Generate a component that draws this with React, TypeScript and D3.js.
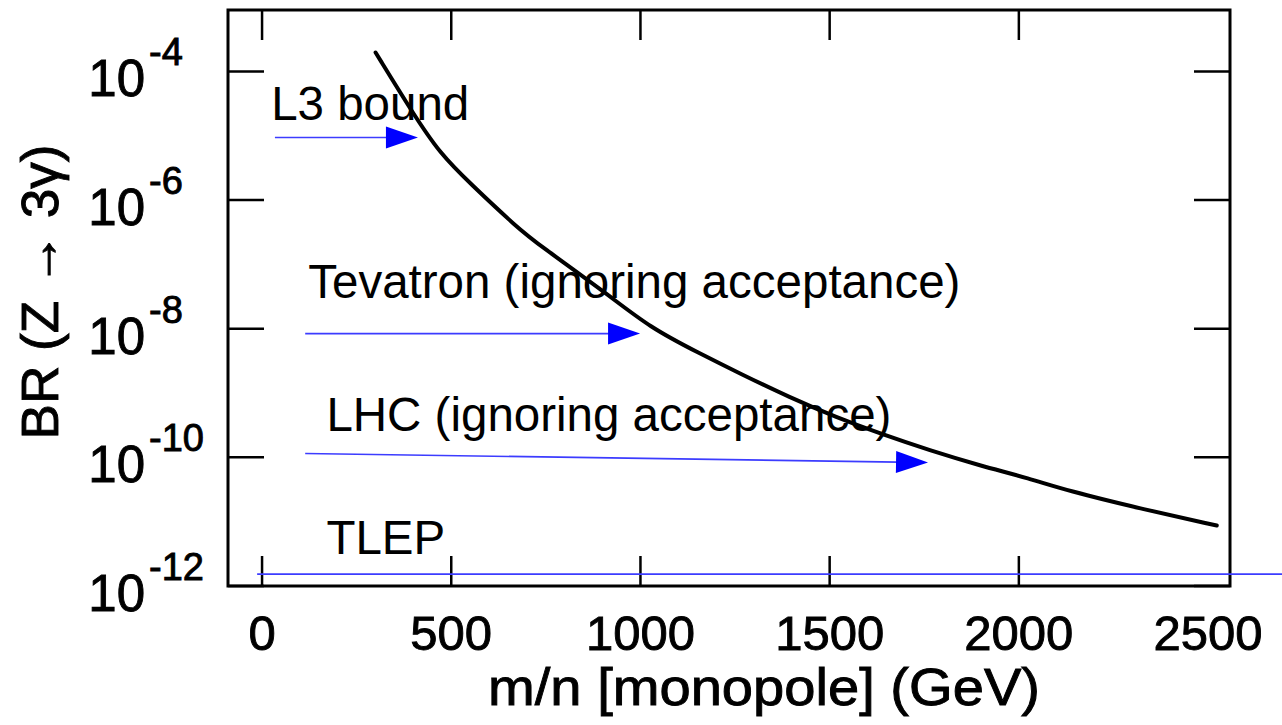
import React from "react";
import * as d3 from "d3";

// ---- data ----
const massGeV = [300, 399, 470, 550, 674, 734, 911, 1025, 1157, 1263, 1395, 1519, 1633, 1765, 1897, 2029, 2127, 2320, 2523];
const branchingRatio = [1.97e-4, 2.22e-5, 5.31e-6, 1.81e-6, 3.75e-7, 1.97e-7, 3.52e-8, 1.04e-8, 4.11e-9, 2.01e-9, 8.5e-10, 4.16e-10, 2.34e-10, 1.28e-10, 7.45e-11, 4.68e-11, 3.05e-11, 1.6e-11, 8.7e-12];

const xTicks = [0, 500, 1000, 1500, 2000, 2500];
const xTickMarks = [0, 500, 1000, 1500, 2000];
const yTickExponents = [-4, -6, -8, -10, -12];

const annotationLabels = ["L3 bound", "Tevatron (ignoring acceptance)", "LHC (ignoring acceptance)", "TLEP"];
const labelX = [24, 122, 170, 170];
const labelY = [1.73e-5, 2.95e-8, 2.61e-10, 3.19e-12];

const arrowX1 = [34, 114, 114, -13];
const arrowY1 = [9.4e-6, 8.4e-9, 1.15e-10, 1.53e-12];
const arrowX2 = [412, 999, 1760, 2700];
const arrowY2 = [9.4e-6, 8.4e-9, 8.3e-11, 1.53e-12];
const arrowHasHead = [true, true, true, false];

const xLabel = "m/n [monopole] (GeV)";
const yLabel = "BR (Z \u2192 3\u03b3)";

export default function App() {
  const W = 1282, H = 725;
  const left = 228, right = 1230, top = 10, bottom = 586;
  const x = d3.scaleLinear().domain([-90, 2558]).range([left, right]);
  const y = d3.scaleLog().domain([1e-12, Math.pow(10, -3.045)]).range([bottom, top]);

  const line = d3
    .line<number>()
    .x((_, i) => x(massGeV[i]))
    .y((_, i) => y(branchingRatio[i]))
    .curve(d3.curveBasis);

  const font = "'Liberation Sans', Arial, Helvetica, sans-serif";
  const scan = { fill: "#000", stroke: "#000", strokeWidth: 0.9 } as const;

  const arrows = annotationLabels.map((_, i) => {
    const x1 = x(arrowX1[i]), y1 = y(arrowY1[i]);
    const x2 = x(arrowX2[i]), y2 = y(arrowY2[i]);
    const dx = x2 - x1, dy = y2 - y1;
    const len = Math.hypot(dx, dy);
    const ux = dx / len, uy = dy / len;
    const headL = 32, headW = 11;
    const bx = x2 - ux * headL, by = y2 - uy * headL;
    const pts = [
      [x2, y2],
      [bx - uy * headW, by + ux * headW],
      [bx + uy * headW, by - ux * headW],
    ];
    return { x1, y1, x2: arrowHasHead[i] ? bx + ux * 2 : x2, y2: arrowHasHead[i] ? by + uy * 2 : y2, pts, head: arrowHasHead[i] };
  });

  return (
    <svg
      width={W}
      height={H}
      style={{ position: "fixed", left: 0, top: 0, background: "#fff" }}
      fontFamily={font}
    >
      <rect x={0} y={0} width={W} height={H} fill="#fff" />
      {/* frame */}
      <rect x={left} y={top} width={right - left} height={bottom - top} fill="none" stroke="#000" strokeWidth={3} />
      {/* x ticks bottom & top */}
      {xTickMarks.map((v) => (
        <g key={"xt" + v}>
          <line x1={x(v)} x2={x(v)} y1={bottom} y2={bottom - 30} stroke="#000" strokeWidth={2.5} />
          <line x1={x(v)} x2={x(v)} y1={top} y2={top + 30} stroke="#000" strokeWidth={2.5} />
        </g>
      ))}
      {/* y ticks left & right */}
      {yTickExponents.map((e) => (
        <g key={"yt" + e}>
          <line x1={left} x2={left + 36} y1={y(Math.pow(10, e))} y2={y(Math.pow(10, e))} stroke="#000" strokeWidth={2.5} />
          <line x1={right} x2={right - 36} y1={y(Math.pow(10, e))} y2={y(Math.pow(10, e))} stroke="#000" strokeWidth={2.5} />
        </g>
      ))}
      {/* x tick labels */}
      {xTicks.map((v) => (
        <text key={"xl" + v} x={x(v)} y={650} textAnchor="middle" fontSize={49} {...scan}>
          {v}
        </text>
      ))}
      {/* y tick labels */}
      {yTickExponents.map((e) => {
        const ty = y(Math.pow(10, e));
        return (
          <g key={"yl" + e}>
            <text x={145} y={ty + 25} textAnchor="end" fontSize={51} {...scan}>
              10
            </text>
            <text x={149} y={ty - 6} textAnchor="start" fontSize={38} {...scan}>
              {"-" + Math.abs(e)}
            </text>
          </g>
        );
      })}
      {/* axis titles */}
      <text x={764} y={705} textAnchor="middle" fontSize={52} textLength={552} lengthAdjust="spacingAndGlyphs" {...scan}>
        {xLabel}
      </text>
      <text
        transform="translate(58,292) rotate(-90)"
        textAnchor="middle"
        fontSize={52}
        textLength={295}
        lengthAdjust="spacingAndGlyphs"
        {...scan}
      >
        {yLabel}
      </text>
      {/* curve */}
      <path d={line(massGeV) || ""} fill="none" stroke="#000" strokeWidth={4} strokeLinecap="round" />
      {/* annotations */}
      {annotationLabels.map((t, i) => (
        <text key={"an" + i} x={x(labelX[i])} y={y(labelY[i])} fontSize={47.5} fill="#000">
          {t}
        </text>
      ))}
      {arrows.map((a, i) => (
        <g key={"ar" + i}>
          <line x1={a.x1} y1={a.y1} x2={a.x2} y2={a.y2} stroke="#3c3cff" strokeWidth={1.6} />
          {a.head && <polygon points={a.pts.map((p) => p.join(",")).join(" ")} fill="#0000ff" />}
        </g>
      ))}
    </svg>
  );
}
